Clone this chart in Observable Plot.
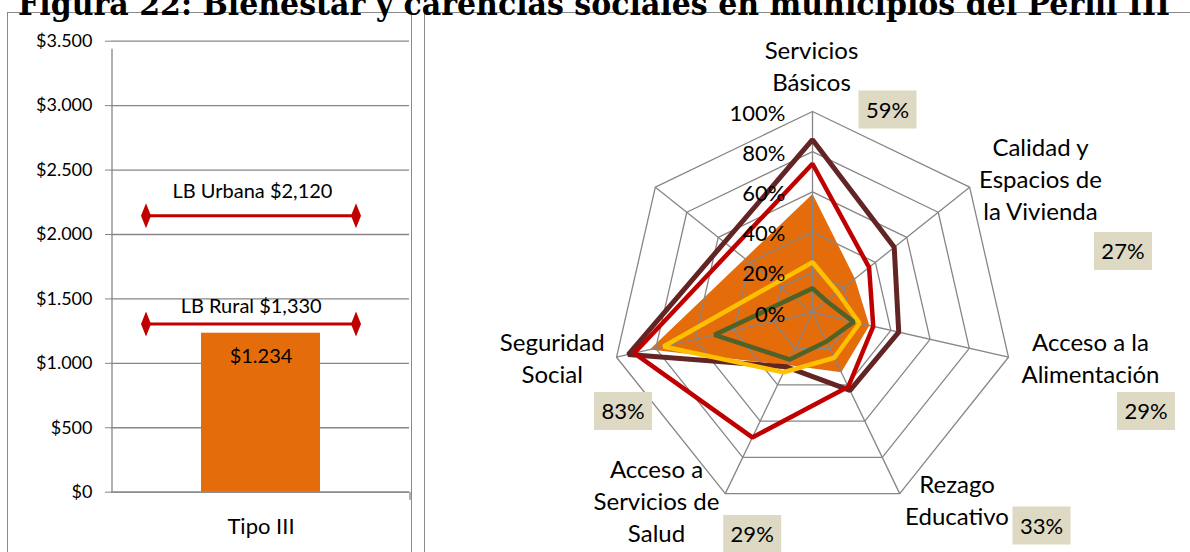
<!DOCTYPE html>
<html><head><meta charset="utf-8">
<script src="https://cdn.jsdelivr.net/npm/d3@7"></script>
<script src="https://cdn.jsdelivr.net/npm/@observablehq/plot@0.6"></script>
<style>
body{margin:0;background:#fff;}
#root{position:relative;width:1190px;height:552px;overflow:hidden;font-family:Lato, sans-serif;background:#fff;}
.panel{position:absolute;border:1.6px solid #8a8a8a;box-sizing:border-box;}
#left{position:absolute;left:8px;top:13px;}
#right{position:absolute;left:425px;top:13px;}
#title{position:absolute;left:0;top:0;}
</style></head><body>
<div id="root">
  <div class="panel" style="left:7px;top:12px;width:405px;height:570px"></div>
  <div class="panel" style="left:424px;top:12px;width:790px;height:570px"></div>
  <svg id="title" width="1190" height="30"><text x="18" y="15" textLength="1152" lengthAdjust="spacingAndGlyphs" font-family="DejaVu Serif" font-weight="bold" font-size="31" fill="#000">Figura 22: Bienestar y carencias sociales en municipios del Perfil III</text></svg>
  <div id="left"></div>
  <div id="right"></div>
</div>
<script>
// ---------- DATA ----------
const tipos = ["Tipo III"];
const ingreso = [1234];
const lineasTexto = ["LB Urbana $2,120", "LB Rural $1,330"];
const lineasValor = [2145, 1306];
const yTicks = [0, 500, 1000, 1500, 2000, 2500, 3000, 3500];

const dimensiones = ["Servicios Básicos", "Calidad y Espacios de la Vivienda", "Acceso a la Alimentación", "Rezago Educativo", "Acceso a Servicios de Salud", "Seguridad Social", ""];
const etiquetas = ["Servicios\nBásicos", "Calidad y\nEspacios de\nla Vivienda", "Acceso a la\nAlimentación", "Rezago\nEducativo", "Acceso a\nServicios de\nSalud", "Seguridad\nSocial", ""];
const perfilIII = [59, 27, 29, 33, 29, 83, null];
const serieMarron = [86, 52, 44, 43, 30, 94, null];
const serieRoja = [74, 36, 31, 41, 69, 91, null];
const serieAmarilla = [25, 16, 24, 25, 33, 76, null];
const serieVerde = [12, 9, 21, 16, 26, 50, null];
const radialTicks = [0, 20, 40, 60, 80, 100];

// ---------- LAYOUT / STYLE ----------
const gridColor = "#868686";
const labelOffsets = [[-1,-47],[70.8,-9.7],[82,-0.7],[57.3,5.4],[-68.8,5.9],[-64.3,-0.7]];
const boxOffsets = [[75,-2],[153.3,63.8],[137.5,53.8],[141.8,31.9],[26.9,40.5],[6.5,53.8]];
const rectSymbol = {draw(ctx){ctx.moveTo(-29,-19);ctx.lineTo(29,-19);ctx.lineTo(29,19);ctx.lineTo(-29,19);ctx.closePath();}};
const diamondSymbol = {draw(ctx){ctx.moveTo(0,-12.5);ctx.lineTo(5,0);ctx.lineTo(0,12.5);ctx.lineTo(-5,0);ctx.closePath();}};
const fmt = d => "$" + d3.format(",")(d).replace(/,/g, ".");

// ---------- LEFT CHART ----------
const barData = tipos.map((t,i)=>({t, v: ingreso[i]}));
const lbData = lineasTexto.map((l,i)=>({l, v: lineasValor[i]}));
const left = Plot.plot({
  width: 404, height: 539,
  marginLeft: 103, marginRight: 3, marginTop: 27.7, marginBottom: 60.3,
  x: {domain: tipos, padding: 0.4293, label: null},
  y: {domain: [0, 3500], label: null},
  style: {fontFamily: "Lato", color: "#000", background: "transparent", overflow: "visible"},
  marks: [
    Plot.gridY(yTicks, {stroke: gridColor, strokeOpacity: 1, strokeWidth: 1.3}),
    Plot.barY(barData, {x: "t", y: "v", fill: "#E46C0A"}),
    Plot.ruleY([0], {stroke: gridColor, strokeWidth: 1.3}),
    Plot.ruleX(tipos, {x: d => d, y1: 0, y2: 3500, dx: -149, insetBottom: -8, stroke: gridColor, strokeWidth: 1.3}),
    Plot.ruleX(tipos, {x: d => d, y1: 0, y2: 0, dx: 149, insetBottom: -8, stroke: gridColor, strokeWidth: 1.3}),
    Plot.axisY(yTicks, {tickSize: 6, tickPadding: 13, tickFormat: fmt, fontSize: 18, stroke: gridColor}),
    Plot.axisX({tickSize: 0, tickPadding: 26, fontSize: 22}),
    Plot.text(barData, {x: "t", y: "v", text: d => fmt(d.v), dy: 23, fontSize: 20}),
    Plot.ruleY(lbData, {y: "v", stroke: "#C00000", strokeWidth: 3, insetLeft: 34.5, insetRight: 53.5}),
    Plot.dot(lbData, {y: "v", frameAnchor: "left", dx: 34.5, symbol: diamondSymbol, fill: "#C00000"}),
    Plot.dot(lbData, {y: "v", frameAnchor: "right", dx: -53.5, symbol: diamondSymbol, fill: "#C00000"}),
    Plot.text(lbData, {filter: (d,i) => i === 0, y: "v", text: "l", dx: -8, dy: -24.3, fontSize: 20}),
    Plot.text(lbData, {filter: (d,i) => i === 1, y: "v", text: "l", dx: -9.3, dy: -17.3, fontSize: 20})
  ]
});
document.getElementById("left").append(left);

// ---------- RADAR ----------
const N = dimensiones.length;
const K = 2.01;
const ang = i => i * 2 * Math.PI / N;
const px = (v,i) => v * Math.sin(ang(i));
const py = (v,i) => v * Math.cos(ang(i));
const poly = vals => vals.map((v,i) => v == null ? null : {x: px(v,i), y: py(v,i)}).filter(d => d);
const rings = radialTicks.flatMap(t => dimensiones.map((d,i) => ({t, x: px(t,i), y: py(t,i)})));
const spokes = dimensiones.map((d,i) => ({x: px(100,i), y: py(100,i)}));
const series = [
  {vals: serieMarron, color: "#632523", w: 5},
  {vals: serieRoja, color: "#C00000", w: 4.5},
  {vals: serieAmarilla, color: "#FFC000", w: 4.5},
  {vals: serieVerde, color: "#4F6228", w: 4.5}
];
const labelMarks = etiquetas.slice(0, 6).map((e,i) => Plot.text([{x: px(100,i), y: py(100,i), e}], {
  x: "x", y: "y", text: "e", dx: labelOffsets[i][0], dy: labelOffsets[i][1], fontSize: 24, lineHeight: 1.34
}));
const boxMarks = perfilIII.slice(0, 6).flatMap((v,i) => {
  const d = [{x: px(100,i), y: py(100,i), t: v + "%"}];
  return [
    Plot.dot(d, {x: "x", y: "y", dx: boxOffsets[i][0], dy: boxOffsets[i][1], symbol: rectSymbol, fill: "#DDD9C3"}),
    Plot.text(d, {x: "x", y: "y", text: "t", dx: boxOffsets[i][0], dy: boxOffsets[i][1] + 1, fontSize: 22})
  ];
});
const right = Plot.plot({
  width: 765, height: 539, margin: 0,
  x: {domain: [-387 / K, 378 / K], axis: null},
  y: {domain: [-240 / K, 299 / K], axis: null},
  style: {fontFamily: "Lato", color: "#000", background: "transparent", overflow: "visible"},
  marks: [
    Plot.line(poly(perfilIII), {x: "x", y: "y", curve: "linear-closed", fill: "#E46C0A", stroke: "none"}),
    Plot.line(rings, {x: "x", y: "y", z: "t", curve: "linear-closed", stroke: gridColor, strokeWidth: 1.3}),
    Plot.link(spokes, {x1: 0, y1: 0, x2: "x", y2: "y", stroke: gridColor, strokeWidth: 1.3}),
    ...series.map(s => Plot.line(poly(s.vals), {x: "x", y: "y", curve: "linear-closed", stroke: s.color, strokeWidth: s.w, strokeLinejoin: "miter"})),
    Plot.text(radialTicks, {x: 0, y: d => d, text: d => d + "%", textAnchor: "end", dx: -27, dy: 2, fontSize: 22}),
    ...labelMarks,
    ...boxMarks
  ]
});
document.getElementById("right").append(right);
</script>
</body></html>
